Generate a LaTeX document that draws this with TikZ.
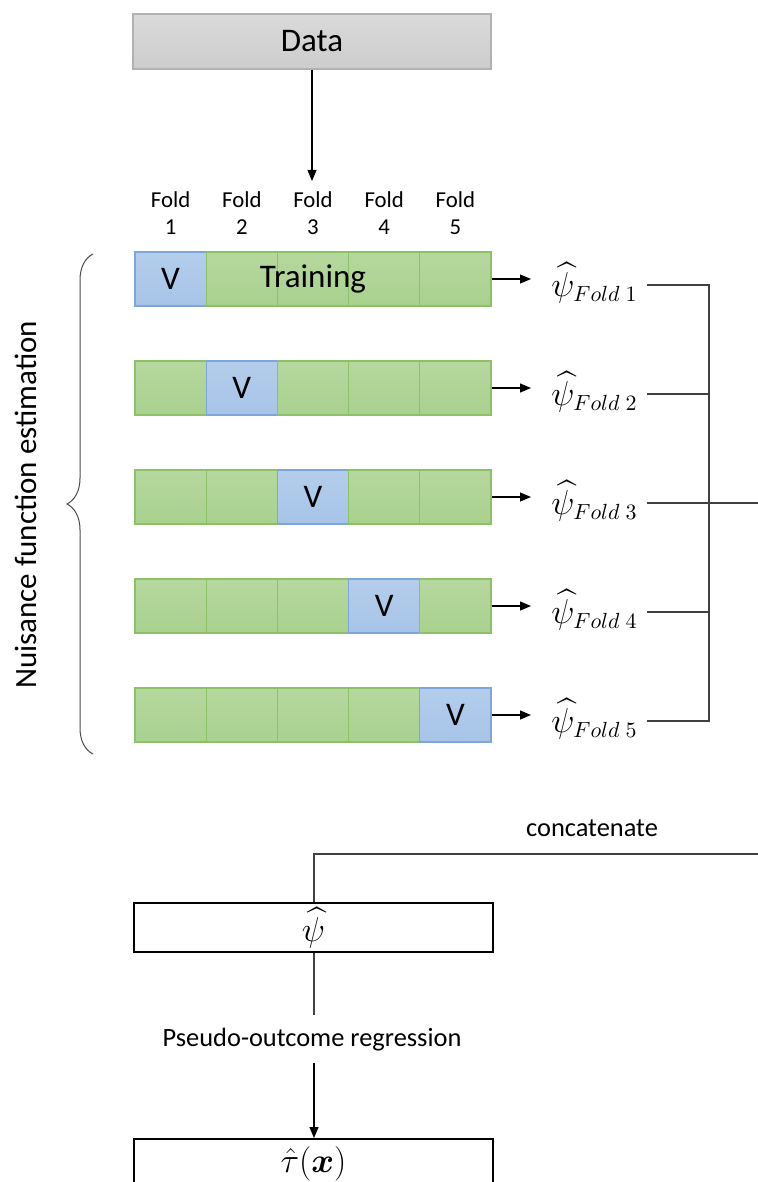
\documentclass[tikz,border=0pt]{standalone}
\usepackage{amsmath}
\usepackage{fontspec}
\setmainfont{Carlito}
\usepackage{xcolor}
\usetikzlibrary{positioning,arrows.meta,decorations.pathreplacing}
\definecolor{trgreen}{HTML}{A9D18E}
\definecolor{trgreenline}{HTML}{8CC168}
\definecolor{valblue}{HTML}{A7C4E8}
\definecolor{valblueline}{HTML}{7EA6DA}
\definecolor{datagray}{HTML}{CDCDCD}

\begin{document}
\begin{tikzpicture}[x=0.5pt,y=-0.5pt,
    cell/.style={draw=trgreenline,line width=0.6pt,top color=trgreen!85!white,bottom color=trgreen,minimum width=35.6pt,minimum height=27pt,inner sep=0pt},
    valcell/.style={cell,draw=valblueline,top color=valblue!85!white,bottom color=valblue},
    outbox/.style={draw,line width=1pt,fill=white,minimum width=179.5pt,minimum height=24.5pt,inner sep=0pt},
    arr/.style={-{Triangle[length=5.5pt,width=4.5pt]},line width=0.6pt},
    conn/.style={line width=0.6pt,draw=black!75}]
    \useasboundingbox (0,0) rectangle (758,1182);
            \node[draw=black!30,line width=0.6pt,top color=datagray!75!white,bottom color=datagray,minimum width=179pt,minimum height=27.5pt] (data) at (312,41.5) {\fontsize{16.5}{19}\selectfont Data};
            \coordinate (foldtop) at (312,181);
            \draw[arr] (data.south) -- (foldtop);
            \foreach \c in {1,...,5}
                \node[align=center,font=\fontsize{11.4}{13.5}\selectfont] (fold\c) at ({135+71.2*(\c-0.5)},213) {Fold\\\c};
            \foreach \r in {1,...,5} {
                \foreach \c in {1,...,5} {
                    \ifnum\c=\r
                        \node[valcell] (cell\r\c) at ({135+71.2*(\c-0.5)},{279+109*(\r-1)}) {\fontsize{16.5}{19}\selectfont V};
                    \else
                        \node[cell] (cell\r\c) at ({135+71.2*(\c-0.5)},{279+109*(\r-1)}) {};
                    \fi
                }
                \coordinate (out\r) at (531,{279+109*(\r-1)});
                \draw[arr] (cell\r5.east) -- (out\r);
                \node[anchor=west,inner sep=0pt,font=\fontsize{16}{18}\selectfont] (psi\r) at (551,{283+109*(\r-1)}) {$\widehat{\psi}_{Fold\;\r}$};
                \coordinate (tap\r) at (647,{285+109*(\r-1)});
                \coordinate (bus\r) at (709,{285+109*(\r-1)});
            }
            \node[font=\fontsize{16.5}{19}\selectfont] (train) at (cell13) {Training};
            \draw[conn] (tap1) -- (bus1) -- (bus5) -- (tap5);
            \draw[conn] (tap2) -- (bus2);
            \draw[conn] (tap4) -- (bus4);
            \coordinate (edge3) at (758,503);
            \draw[conn] (tap3) -- (edge3);
            \draw[line width=0.5pt,draw=black!70,decorate,decoration={brace,amplitude=13pt}] (93,754) -- (93,254);
            \node[rotate=90,font=\fontsize{15.5}{18}\selectfont] (nuis) at (26,505) {Nuisance function estimation};
            \node[font=\fontsize{13.2}{16}\selectfont] (concat) at (592,828) {concatenate};
            \node[outbox] (psihat) at (313.5,927.5) {\fontsize{17}{19}\selectfont$\widehat{\psi}$};
            \coordinate (edgec) at (758,854);
            \draw[conn] (edgec) -- (314,854) -- (psihat.north -| 314,854);
            \node[font=\fontsize{13.2}{16}\selectfont] (pseudo) at (312,1040) {Pseudo-outcome regression};
            \coordinate (pstop) at (314,1015);
            \coordinate (psbot) at (314,1063);
            \draw[conn] (psihat.south -| pstop) -- (pstop);
            \node[outbox] (tau) at (313.5,1163.5) {\fontsize{18}{20}\selectfont$\hat{\tau}(\boldsymbol{x})$};
            \draw[arr] (psbot) -- (tau.north -| psbot);
        \end{tikzpicture}
\end{document}
